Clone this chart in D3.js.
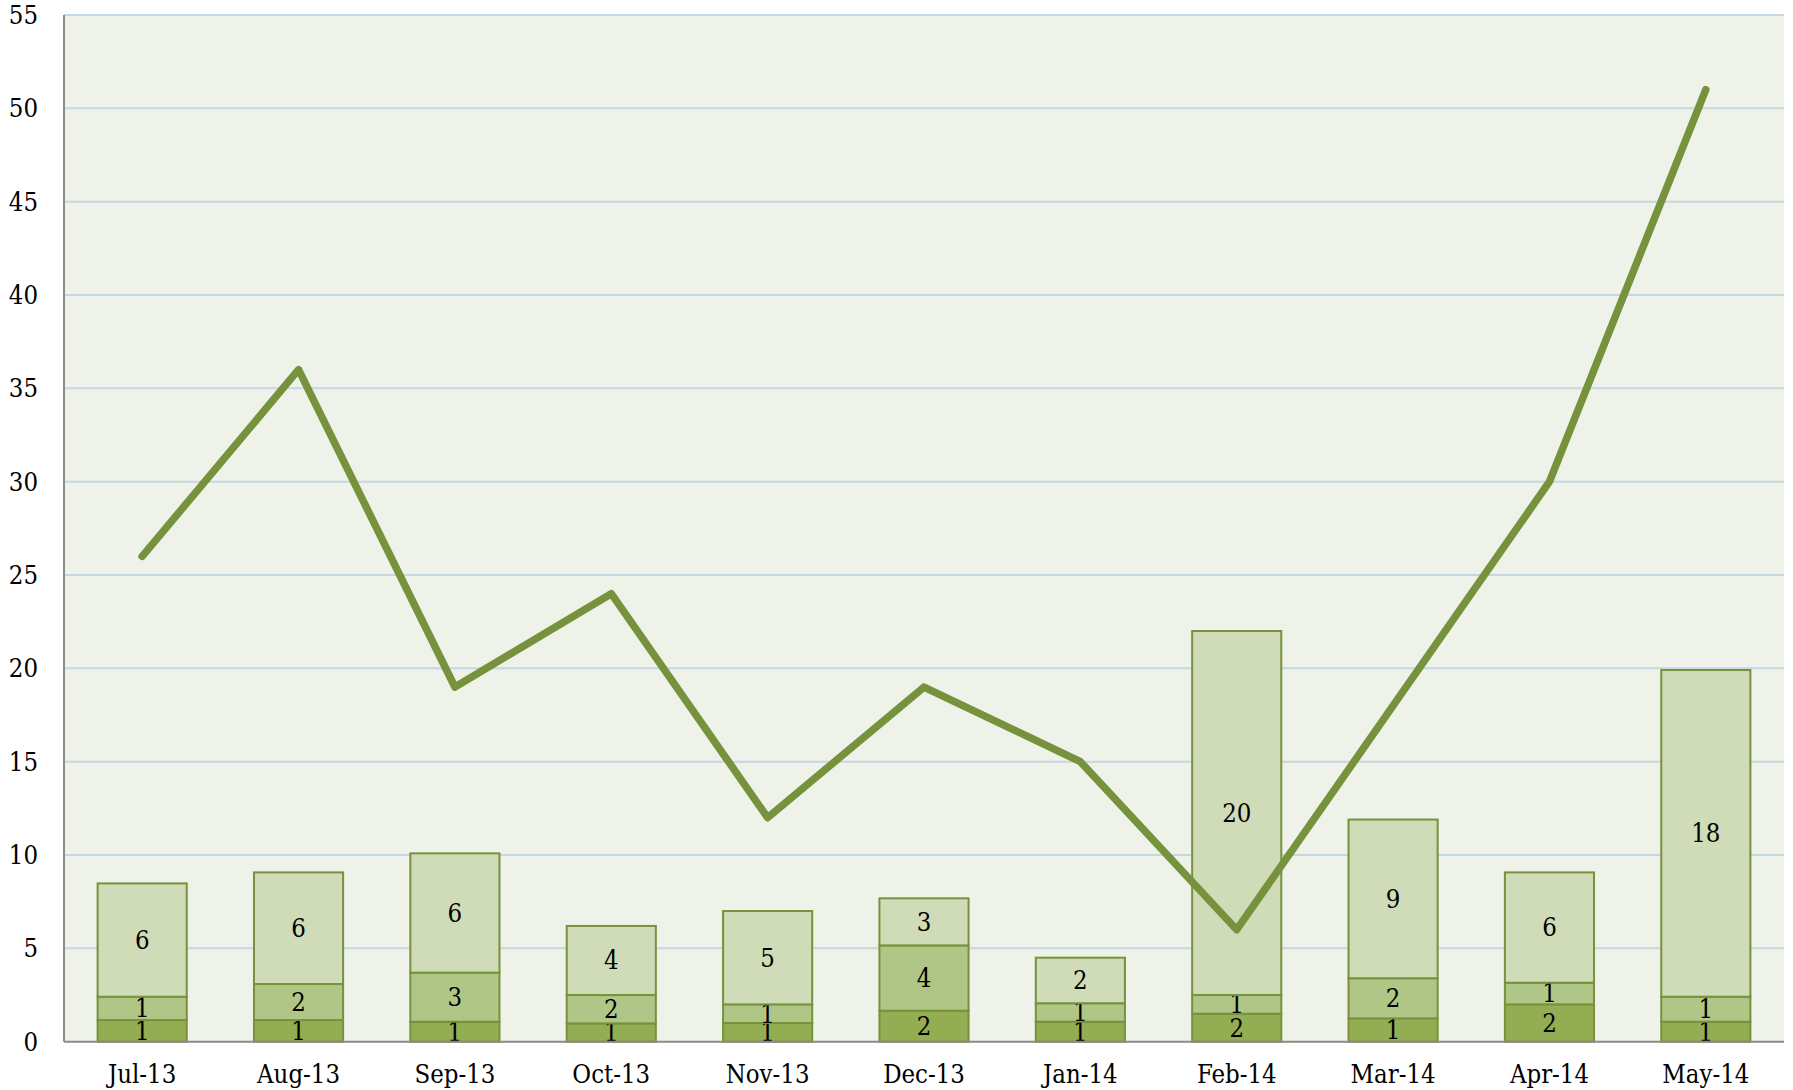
<!DOCTYPE html>
<html>
<head>
<meta charset="utf-8">
<script src="https://cdn.jsdelivr.net/npm/d3@7"></script>
<style>
  html, body { margin: 0; padding: 0; background: #fff; }
  svg text { font-family: "DejaVu Serif", serif; font-stretch: condensed; fill: #000; }
</style>
</head>
<body>
<svg id="chart" width="1793" height="1090"></svg>
<script>
const months = ["Jul-13", "Aug-13", "Sep-13", "Oct-13", "Nov-13", "Dec-13",
                "Jan-14", "Feb-14", "Mar-14", "Apr-14", "May-14"];

// stacked bar segments, bottom to top
const seriesA = [1.16, 1.16, 1.07, 0.98, 1.0, 1.66, 1.07, 1.5, 1.25, 2.0, 1.07];
const seriesB = [1.25, 1.93, 2.63, 1.52, 1.0, 3.5, 0.99, 1.0, 2.15, 1.16, 1.34];
const seriesC = [6.07, 5.98, 6.39, 3.7, 5.0, 2.52, 2.44, 19.5, 8.5, 5.91, 17.5];

// line series
const lineValues = [26, 36, 19, 24, 12, 19, 15, 6, 18, 30, 51];

const yTicks = [0, 5, 10, 15, 20, 25, 30, 35, 40, 45, 50, 55];

const W = 1793, H = 1090;
const margin = { top: 15, right: 9, bottom: 48, left: 64 };
const fontSize = 25.5;

const svg = d3.select("#chart");

const x = d3.scaleBand()
  .domain(months)
  .range([margin.left, W - margin.right])
  .paddingInner(0.43)
  .paddingOuter(0.215);

const y = d3.scaleLinear()
  .domain([0, 55])
  .range([H - margin.bottom - 0.3, margin.top]);

// plot background
svg.append("rect")
  .attr("x", margin.left)
  .attr("y", y(55))
  .attr("width", W - margin.right - margin.left)
  .attr("height", y(0) - y(55))
  .attr("fill", "#eff2e9");

// gridlines
svg.append("g")
  .selectAll("line")
  .data(yTicks.filter(d => d > 0))
  .join("line")
  .attr("x1", margin.left)
  .attr("x2", W - margin.right)
  .attr("y1", d => y(d))
  .attr("y2", d => y(d))
  .attr("stroke", "#c5d7e2")
  .attr("stroke-width", 2);

// stacked bars
const rows = months.map((m, i) => ({ month: m, a: seriesA[i], b: seriesB[i], c: seriesC[i] }));
const stack = d3.stack().keys(["a", "b", "c"])(rows);
const fills = { a: "#92ad52", b: "#afc687", c: "#cfdcb7" };

const layers = svg.append("g")
  .selectAll("g")
  .data(stack)
  .join("g")
  .attr("fill", d => fills[d.key]);

layers.selectAll("rect")
  .data(d => d)
  .join("rect")
  .attr("x", d => x(d.data.month))
  .attr("width", x.bandwidth())
  .attr("y", d => y(d[1]))
  .attr("height", d => y(d[0]) - y(d[1]))
  .attr("stroke", "#76923c")
  .attr("stroke-width", 2);

layers.selectAll("text")
  .data(d => d)
  .join("text")
  .attr("x", d => x(d.data.month) + x.bandwidth() / 2)
  .attr("y", d => (y(d[0]) + y(d[1])) / 2 + fontSize * 0.35)
  .attr("text-anchor", "middle")
  .attr("font-size", fontSize)
  .text(d => Math.round(d[1] - d[0] + 1e-9));

// axes lines
svg.append("line")
  .attr("x1", margin.left).attr("x2", margin.left)
  .attr("y1", y(55)).attr("y2", y(0))
  .attr("stroke", "#8a8a8a").attr("stroke-width", 2);

svg.append("line")
  .attr("x1", margin.left).attr("x2", W - margin.right)
  .attr("y1", y(0)).attr("y2", y(0))
  .attr("stroke", "#8a8a8a").attr("stroke-width", 2);

// y tick labels
svg.append("g")
  .selectAll("text")
  .data(yTicks)
  .join("text")
  .attr("x", 38)
  .attr("y", d => y(d) + fontSize * 0.35)
  .attr("text-anchor", "end")
  .attr("font-size", fontSize)
  .text(d => d);

// x labels
svg.append("g")
  .selectAll("text")
  .data(months)
  .join("text")
  .attr("x", d => x(d) + x.bandwidth() / 2)
  .attr("y", 1083)
  .attr("text-anchor", "middle")
  .attr("font-size", fontSize)
  .text(d => d);

// line
const line = d3.line()
  .x((d, i) => x(months[i]) + x.bandwidth() / 2)
  .y(d => y(d));

svg.append("path")
  .datum(lineValues)
  .attr("d", line)
  .attr("fill", "none")
  .attr("stroke", "#76923c")
  .attr("stroke-width", 7.5)
  .attr("stroke-linejoin", "round")
  .attr("stroke-linecap", "round");
</script>
</body>
</html>
